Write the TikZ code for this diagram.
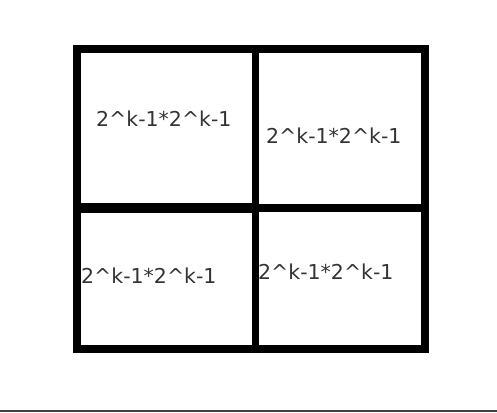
\documentclass[tikz,border=0pt]{standalone}
\usepackage{fontspec}
\setmainfont{DejaVu Sans}
\usepackage{tikz}
\usetikzlibrary{positioning, calc}

\tikzset{
  frame/.style={line width=8pt, line cap=rect},
  cell/.style={anchor=base west, inner sep=0pt, text=black!80, font=\fontsize{20.5}{24}\selectfont}
}

\begin{document}
\begin{tikzpicture}[x=1pt, y=-1pt]
\useasboundingbox (0,0) rectangle (497,412);
\draw[frame] (77,49) rectangle (425,349);
\draw[line width=7pt] (255.5,49) -- (255.5,349);
\draw[line width=10pt] (77,208) -- (255.5,208);
\draw[line width=8pt] (255.5,208) -- (425,208);
\draw[line width=1.5pt, black!75] (0,411.2) -- (497,411.2);
\node[cell] at (96,126) (tl) {2\^{}k-1*2\^{}k-1};
\node[cell] at (266,143) (tr) {2\^{}k-1*2\^{}k-1};
\node[cell] at (81,283) (bl) {2\^{}k-1*2\^{}k-1};
\node[cell] at (258,279) (br) {2\^{}k-1*2\^{}k-1};
\end{tikzpicture}
\end{document}
